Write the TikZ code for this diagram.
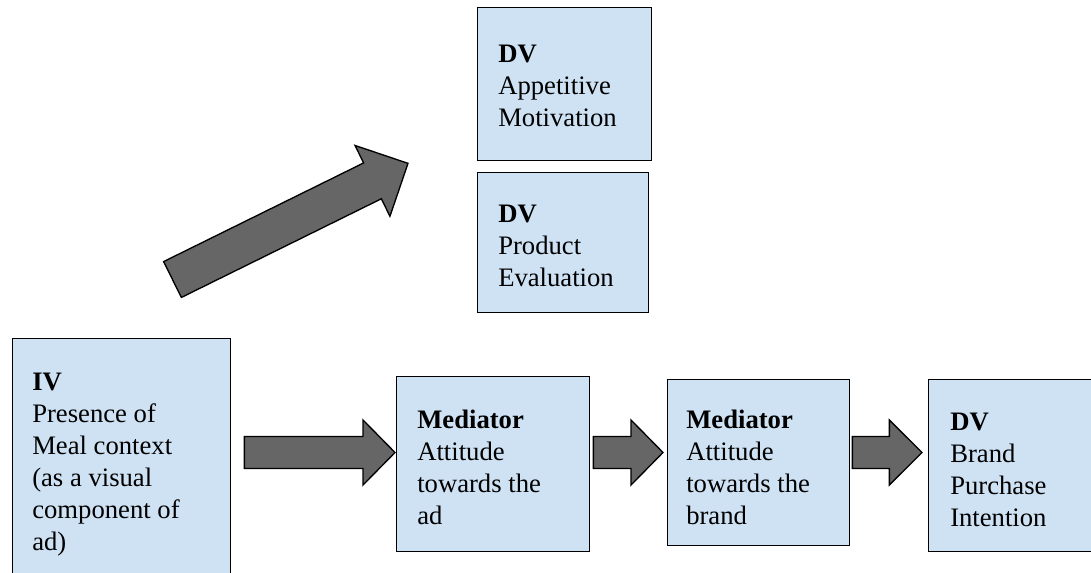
\documentclass[tikz,border=0pt]{standalone}
\usepackage{fontspec}
\setmainfont{Liberation Serif}
\usetikzlibrary{calc}

\definecolor{boxblue}{HTML}{CFE2F3}
\definecolor{arrowgray}{HTML}{666666}

\tikzset{
  box/.style={draw=black, fill=boxblue, line width=1pt, inner sep=0pt, anchor=north west},
  boxtext/.style={anchor=base west, inner sep=0pt, text width=150pt, align=flush left,
                  font=\fontsize{20}{24}\selectfont},
  arrowbody/.style={draw=black, fill=arrowgray, line width=1pt, line join=miter}
}

% block arrow: tail, tip, half shaft, half head, head length
\newcommand{\blockarrow}[5]{%
  \coordinate (neck) at ($(#2)!#5!(#1)$);
  \draw[arrowbody] ($(#1)!#3!90:(#2)$) -- ($(neck)!#3!90:(#2)$) -- ($(neck)!#4!90:(#2)$) -- (#2)
    -- ($(neck)!#4!-90:(#2)$) -- ($(neck)!#3!-90:(#2)$) -- ($(#1)!#3!-90:(#2)$) -- cycle;
}

\begin{document}
\begin{tikzpicture}[x=0.75pt,y=-0.75pt]
\useasboundingbox (0,0) rectangle (1091,572);

% boxes
\node[box, minimum width=130.5pt, minimum height=114.75pt] (am) at (477,7) {};
\node[box, minimum width=128.25pt, minimum height=105pt] (pe) at (477,172) {};
\node[box, minimum width=163.5pt, minimum height=187.5pt] (iv) at (12,338) {};
\node[box, minimum width=144.75pt, minimum height=131.25pt] (ad) at (396,376) {};
\node[box, minimum width=136.5pt, minimum height=124.5pt] (brand) at (667,379) {};
\node[box, minimum width=135pt, minimum height=129pt] (intent) at (928,379) {};

% texts
\node[boxtext] (am-txt) at ($(am.north west)+(21,55)$) {\textbf{DV}\\Appetitive\\Motivation};
\node[boxtext] (pe-txt) at ($(pe.north west)+(21,50)$) {\textbf{DV}\\Product\\Evaluation};
\node[boxtext] (iv-txt) at ($(iv.north west)+(20,52)$) {\textbf{IV}\\Presence of\\Meal context\\(as a visual\\component of\\ad)};
\node[boxtext] (ad-txt) at ($(ad.north west)+(21,52)$) {\textbf{Mediator}\\Attitude\\towards the\\ad};
\node[boxtext] (brand-txt) at ($(brand.north west)+(19,49)$) {\textbf{Mediator}\\Attitude\\towards the\\brand};
\node[boxtext] (intent-txt) at ($(intent.north west)+(22,51)$) {\textbf{DV}\\Brand\\Purchase\\Intention};

% arrows
\coordinate (row) at (0,452.5);
\coordinate (a1) at ($(iv.east |- row)+(13,0)$);
\coordinate (b1) at ($(ad.west |- row)+(-1,0)$);
\coordinate (a2) at ($(ad.east |- row)+(3,0)$);
\coordinate (b2) at ($(brand.west |- row)+(-4,0)$);
\coordinate (a3) at ($(brand.east |- row)+(2,0)$);
\coordinate (b3) at ($(intent.west |- row)+(-6,0)$);
\coordinate (tail) at (172.5,279.5);
\coordinate (tip) at ($(am.south west)+(-69,2)$);

\blockarrow{a1}{b1}{12pt}{24.4pt}{24pt}
\blockarrow{a2}{b2}{12pt}{24.4pt}{24pt}
\blockarrow{a3}{b3}{12pt}{24.4pt}{24.5pt}
\blockarrow{tail}{tip}{15pt}{29.6pt}{29.7pt} % diagonal

\end{tikzpicture}
\end{document}
